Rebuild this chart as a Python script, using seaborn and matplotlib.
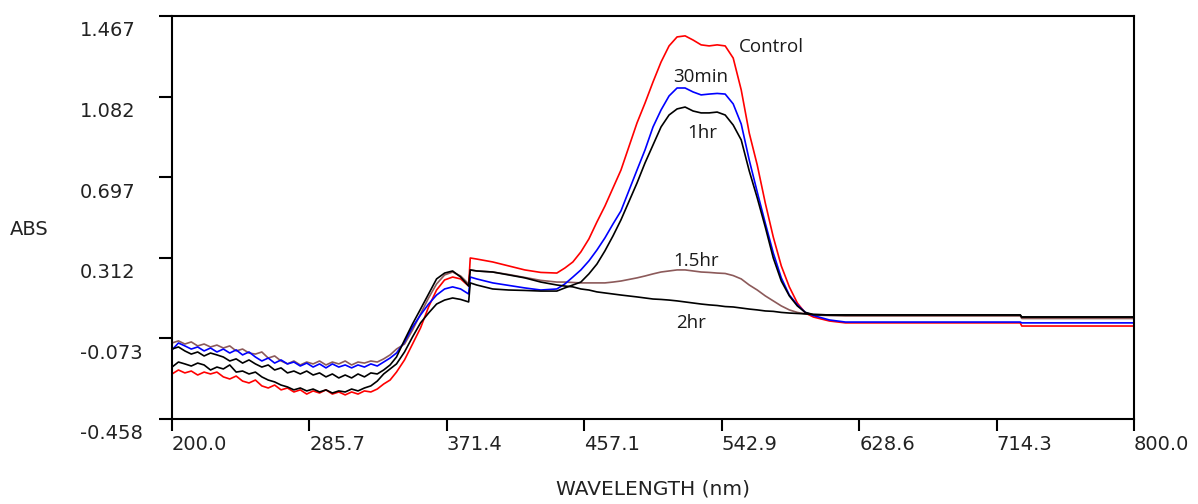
import matplotlib
matplotlib.use("Agg")
import matplotlib.pyplot as plt
from matplotlib.transforms import ScaledTranslation
import pandas as pd
import seaborn as sns

# wavelength grid (nm)
wavelength = [200, 204, 208, 212, 216, 220, 224, 228, 232, 236, 240, 244, 248, 252, 256, 260, 264, 268,
              272, 276, 280, 284, 288, 292, 296, 300, 304, 308, 312, 316, 320, 324, 328, 332, 336, 340,
              345, 350, 355, 360, 365, 370, 375, 380, 385, 386, 390, 400, 410, 420, 430, 440, 445, 450,
              455, 460, 465, 470, 475, 480, 490, 495, 500, 505, 510, 515, 520, 525, 530, 535, 540, 545,
              550, 555, 560, 565, 570, 575, 580, 585, 590, 595, 600, 610, 620, 650, 700, 729, 730, 800]

abs_control = [-0.243, -0.224, -0.238, -0.229, -0.248, -0.234, -0.243, -0.234, -0.257, -0.267, -0.253, -0.277,
               -0.286, -0.272, -0.300, -0.310, -0.296, -0.319, -0.310, -0.329, -0.319, -0.339, -0.324, -0.334,
               -0.319, -0.339, -0.329, -0.343, -0.329, -0.339, -0.324, -0.329, -0.315, -0.291, -0.272, -0.234,
               -0.176, -0.100, -0.023, 0.077, 0.158, 0.206, 0.220, 0.211, 0.177, 0.311, 0.306, 0.292,
               0.273, 0.254, 0.242, 0.239, 0.263, 0.292, 0.340, 0.402, 0.483, 0.559, 0.645, 0.731,
               0.956, 1.051, 1.152, 1.247, 1.324, 1.367, 1.372, 1.352, 1.329, 1.324, 1.329, 1.324,
               1.266, 1.114, 0.908, 0.755, 0.574, 0.411, 0.273, 0.173, 0.096, 0.048, 0.029, 0.010,
               0.001, 0.001, 0.001, 0.001, -0.014, -0.014]

abs_30min = [-0.128, -0.095, -0.109, -0.124, -0.114, -0.133, -0.119, -0.138, -0.124, -0.143, -0.128, -0.152,
             -0.138, -0.162, -0.181, -0.167, -0.191, -0.176, -0.195, -0.186, -0.205, -0.191, -0.210, -0.195,
             -0.214, -0.195, -0.210, -0.200, -0.214, -0.200, -0.210, -0.195, -0.205, -0.186, -0.167, -0.143,
             -0.090, -0.019, 0.039, 0.091, 0.134, 0.163, 0.173, 0.163, 0.139, 0.220, 0.211, 0.192,
             0.180, 0.168, 0.158, 0.163, 0.187, 0.220, 0.254, 0.297, 0.349, 0.407, 0.473, 0.536,
             0.731, 0.827, 0.937, 1.018, 1.085, 1.123, 1.123, 1.104, 1.090, 1.094, 1.097, 1.094,
             1.047, 0.951, 0.779, 0.626, 0.478, 0.335, 0.216, 0.134, 0.087, 0.051, 0.036, 0.015,
             0.005, 0.005, 0.005, 0.005, 0.001, 0.001]

abs_1hr = [-0.210, -0.186, -0.195, -0.205, -0.191, -0.200, -0.224, -0.210, -0.219, -0.200, -0.234, -0.229,
           -0.243, -0.234, -0.257, -0.272, -0.281, -0.296, -0.305, -0.319, -0.310, -0.324, -0.315, -0.329,
           -0.319, -0.334, -0.324, -0.329, -0.315, -0.324, -0.310, -0.300, -0.277, -0.243, -0.219, -0.195,
           -0.138, -0.066, 0.001, 0.048, 0.091, 0.110, 0.120, 0.113, 0.101, 0.192, 0.182, 0.163,
           0.158, 0.156, 0.153, 0.153, 0.168, 0.182, 0.196, 0.235, 0.282, 0.345, 0.416, 0.493,
           0.669, 0.765, 0.851, 0.937, 0.994, 1.023, 1.032, 1.013, 1.004, 1.004, 1.008, 0.994,
           0.946, 0.875, 0.727, 0.598, 0.459, 0.311, 0.201, 0.130, 0.082, 0.051, 0.041, 0.039,
           0.039, 0.039, 0.039, 0.039, 0.029, 0.029]

abs_1_5hr = [-0.095, -0.085, -0.100, -0.090, -0.109, -0.100, -0.114, -0.105, -0.119, -0.109, -0.133, -0.124,
             -0.143, -0.148, -0.138, -0.167, -0.157, -0.181, -0.195, -0.181, -0.200, -0.186, -0.195, -0.181,
             -0.200, -0.186, -0.195, -0.181, -0.200, -0.186, -0.191, -0.181, -0.186, -0.171, -0.152, -0.124,
             -0.100, -0.033, 0.044, 0.120, 0.187, 0.230, 0.244, 0.225, 0.187, 0.254, 0.249, 0.244,
             0.232, 0.218, 0.204, 0.196, 0.196, 0.194, 0.192, 0.192, 0.192, 0.192, 0.196, 0.201,
             0.216, 0.225, 0.235, 0.244, 0.249, 0.254, 0.254, 0.249, 0.244, 0.242, 0.239, 0.237,
             0.227, 0.211, 0.182, 0.158, 0.130, 0.106, 0.082, 0.063, 0.051, 0.044, 0.039, 0.036,
             0.034, 0.034, 0.034, 0.034, 0.022, 0.022]

abs_2hr = [-0.124, -0.114, -0.133, -0.148, -0.138, -0.157, -0.143, -0.152, -0.162, -0.181, -0.171, -0.191,
           -0.176, -0.195, -0.210, -0.200, -0.224, -0.214, -0.238, -0.229, -0.243, -0.229, -0.248, -0.238,
           -0.257, -0.243, -0.262, -0.248, -0.262, -0.243, -0.257, -0.238, -0.243, -0.224, -0.200, -0.162,
           -0.081, -0.004, 0.067, 0.139, 0.211, 0.239, 0.249, 0.220, 0.177, 0.254, 0.249, 0.244,
           0.230, 0.216, 0.196, 0.182, 0.177, 0.173, 0.163, 0.158, 0.149, 0.144, 0.139, 0.134,
           0.125, 0.120, 0.115, 0.113, 0.110, 0.106, 0.101, 0.096, 0.091, 0.087, 0.084, 0.079,
           0.077, 0.072, 0.067, 0.063, 0.058, 0.056, 0.051, 0.048, 0.046, 0.044, 0.041, 0.039,
           0.039, 0.039, 0.039, 0.039, 0.029, 0.029]

series = {"Control": abs_control, "30min": abs_30min, "1hr": abs_1hr, "1.5hr": abs_1_5hr, "2hr": abs_2hr}
colors = {"Control": "#ff0000", "30min": "#0000ff", "1hr": "#000000", "1.5hr": "#8c5a5a", "2hr": "#000000"}
draw_order = ["1.5hr", "Control", "30min", "1hr", "2hr"]

# curve annotations (wavelength, absorbance)
label_names = ["Control", "30min", "1hr", "1.5hr", "2hr"]
label_x = [574, 530, 531, 527, 524]
label_y = [1.319, 1.176, 0.908, 0.297, 0.001]

xticks = [200.0, 285.7, 371.4, 457.1, 542.9, 628.6, 714.3, 800.0]
yticks = [-0.458, -0.073, 0.312, 0.697, 1.082, 1.467]

df = pd.concat([pd.DataFrame({"wavelength": wavelength, "abs": vals, "sample": name})
                for name, vals in series.items()], ignore_index=True)

sns.set_style("white")
plt.rcParams["font.family"] = ["DejaVu Sans"]

fig = plt.figure(figsize=(11.98, 5.04), dpi=100)
ax = fig.add_axes([0.1436, 0.1687, 0.8030, 0.7996])

sns.lineplot(data=df, x="wavelength", y="abs", hue="sample", hue_order=draw_order,
             palette=colors, estimator=None, sort=False, linewidth=1.2, legend=False, ax=ax)

for name, lx, ly in zip(label_names, label_x, label_y):
    ax.text(lx, ly, name, ha="center", va="center", fontsize=13.5,
            family=["Open Sans", "DejaVu Sans"], color="#1a1a1a")

ax.set_xlim(200, 800)
ax.set_ylim(-0.458, 1.467)
ax.set_xticks(xticks, labels=["%.1f" % v for v in xticks])
ax.set_yticks(yticks, labels=["%.3f" % v for v in yticks])

for sp in ax.spines.values():
    sp.set_visible(True)
    sp.set_color("black")
    sp.set_linewidth(1.5)

ax.tick_params(axis="y", left=True, direction="out", length=9.4, width=1.5, color="black",
               pad=0, labelsize=14, labelcolor="#222222")
ax.tick_params(axis="x", bottom=True, direction="out", length=8.6, width=1.5, color="black",
               pad=3, labelsize=14, labelcolor="#222222")

shift_y = ScaledTranslation(-0.79, -0.13, fig.dpi_scale_trans)
for lab in ax.get_yticklabels():
    lab.set_horizontalalignment("left")
    lab.set_transform(lab.get_transform() + shift_y)
for lab in ax.get_xticklabels():
    lab.set_horizontalalignment("left")

ax.set_xlabel("WAVELENGTH (nm)", fontsize=14.5, color="#222222")
ax.xaxis.set_label_coords(0.5, -0.151)
ax.set_ylabel("ABS", rotation=0, ha="left", va="center", fontsize=14, color="#222222")
ax.yaxis.set_label_coords(-0.1684, 0.469)

fig.savefig("out.png", dpi=100)
plt.close(fig)
